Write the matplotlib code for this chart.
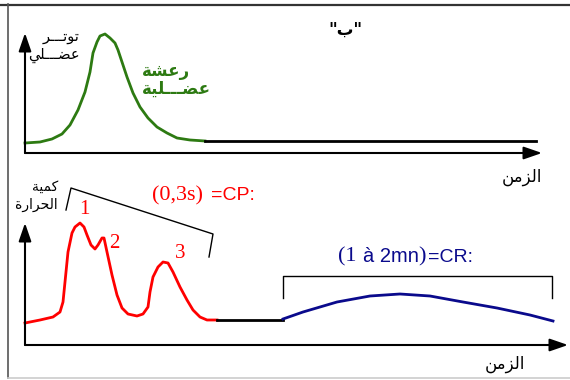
import matplotlib
matplotlib.use('Agg')
import matplotlib.pyplot as plt

# ---- data (arbitrary units: time to the right, amount upward) ----
# top graph : muscle contraction (green) then rest line
tension_t = [0, 15, 27, 37, 45, 53, 60, 65, 68, 72, 75, 80, 85, 90, 93, 97, 102, 108,
             115, 123, 132, 142, 152, 165, 180]
tension_v = [10, 11, 14, 19, 28, 43, 61, 81, 100, 111, 117, 119, 115, 110, 103, 91, 76, 60,
             46, 35, 26, 20, 15, 13, 12]
rest_top_t = [180, 511]
rest_top_v = [12, 12]

# bottom graph : heat, initial heat CP (red) , rest , recovery heat CR (blue)
heat_cp_t = [0, 15, 28, 35, 38, 40, 43, 47, 50, 55, 59, 62, 66, 70, 73, 77, 79, 82, 87, 92,
             97, 103, 112, 118, 123, 125, 128, 133, 138, 143, 148, 155, 162, 168, 175, 182, 192]
heat_cp_v = [22, 25, 28, 33, 43, 63, 93, 112, 118, 122, 118, 110, 100, 96, 100, 107, 107, 93, 70, 50,
             37, 31, 29, 31, 38, 53, 68, 78, 83, 82, 73, 58, 45, 35, 28, 25, 25]
rest_bot_t = [192, 258]
rest_bot_v = [25, 25]
heat_cr_t = [258, 278, 312, 345, 375, 405, 438, 472, 505, 528]
heat_cr_v = [26, 33, 43, 49, 51, 49, 43, 37, 30, 24]

peak_labels = ['1', '2', '3']

# brackets
cp_brk_t = [41, 46, 188, 184]
cp_brk_v = [135, 157, 111, 88]
cr_brk_t = [258, 258, 527, 527]
cr_brk_v = [47, 69, 69, 47]

# ---- minimal arabic shaping (presentation forms + right to left) ----
FORMS = {
    '\u0627': ('\uFE8D', '\uFE8E', None, None),
    '\u0628': ('\uFE8F', '\uFE90', '\uFE91', '\uFE92'),
    '\u0629': ('\uFE93', '\uFE94', None, None),
    '\u062A': ('\uFE95', '\uFE96', '\uFE97', '\uFE98'),
    '\u062D': ('\uFEA1', '\uFEA2', '\uFEA3', '\uFEA4'),
    '\u0631': ('\uFEAD', '\uFEAE', None, None),
    '\u0632': ('\uFEAF', '\uFEB0', None, None),
    '\u0634': ('\uFEB5', '\uFEB6', '\uFEB7', '\uFEB8'),
    '\u0636': ('\uFEBD', '\uFEBE', '\uFEBF', '\uFEC0'),
    '\u0639': ('\uFEC9', '\uFECA', '\uFECB', '\uFECC'),
    '\u0643': ('\uFED9', '\uFEDA', '\uFEDB', '\uFEDC'),
    '\u0644': ('\uFEDD', '\uFEDE', '\uFEDF', '\uFEE0'),
    '\u0645': ('\uFEE1', '\uFEE2', '\uFEE3', '\uFEE4'),
    '\u0646': ('\uFEE5', '\uFEE6', '\uFEE7', '\uFEE8'),
    '\u0648': ('\uFEED', '\uFEEE', None, None),
    '\u064A': ('\uFEF1', '\uFEF2', '\uFEF3', '\uFEF4'),
}
TATWEEL = '\u0640'


def dual(c):
    return c == TATWEEL or (c in FORMS and FORMS[c][2] is not None)


def arabic(c):
    return c == TATWEEL or c in FORMS


def ar(word):
    out = []
    for i, c in enumerate(word):
        if c not in FORMS:
            out.append(c)
            continue
        prev = i > 0 and dual(word[i - 1])
        nxt = i < len(word) - 1 and FORMS[c][2] is not None and arabic(word[i + 1])
        iso, fin, ini, med = FORMS[c]
        if prev and nxt:
            out.append(med)
        elif prev:
            out.append(fin)
        elif nxt:
            out.append(ini)
        else:
            out.append(iso)
    return ''.join(reversed(out))


AR = ['DejaVu Sans']
SERIF = ['Liberation Serif', 'DejaVu Serif']
SANS = ['Liberation Sans', 'DejaVu Sans']
GREEN = '#2d7a12'
RED = '#ff0000'
BLUE = '#0a0a8c'

fig = plt.figure(figsize=(5.7, 3.8), dpi=100)

# page in pixel coords for the frame and texts
page = fig.add_axes([0, 0, 1, 1])
page.set_xlim(0, 570)
page.set_ylim(380, 0)
page.axis('off')
page.plot([0, 570], [4.5, 4.5], color='#333333', lw=1.6)
page.plot([7.5, 7.5], [4, 378], color='#555555', lw=1.2)
page.plot([7.5, 570], [378, 378], color='#cccccc', lw=1.2)

# top graph
top = fig.add_axes([25 / 570, (380 - 153) / 380, 517 / 570, 120 / 380])
top.set_xlim(0, 517)
top.set_ylim(0, 120)
top.axis('off')

# bottom graph
bot = fig.add_axes([25 / 570, (380 - 345) / 380, 543 / 570, 122 / 380])
bot.set_xlim(0, 543)
bot.set_ylim(0, 122)
bot.axis('off')

arrow = dict(arrowstyle='-|>,head_length=1.1,head_width=0.38', lw=1.5, color='k',
             shrinkA=0, shrinkB=0, mutation_scale=10)
for ax in (top, bot):
    x1 = ax.get_xlim()[1]
    y1 = ax.get_ylim()[1]
    ax.annotate('', xy=(x1, 0), xytext=(0, 0), arrowprops=arrow, annotation_clip=False)
    ax.annotate('', xy=(0, y1), xytext=(0, 0), arrowprops=arrow, annotation_clip=False)

top.plot(tension_t, tension_v, color=GREEN, lw=2.0, clip_on=False, solid_joinstyle='round')
top.plot(rest_top_t, rest_top_v, color='k', lw=2.0, clip_on=False)

bot.plot(heat_cp_t, heat_cp_v, color=RED, lw=2.0, clip_on=False, solid_joinstyle='round')
bot.plot(rest_bot_t, rest_bot_v, color='k', lw=2.0, clip_on=False)
bot.plot(heat_cr_t, heat_cr_v, color=BLUE, lw=2.0, clip_on=False, solid_joinstyle='round')

bot.plot(cp_brk_t, cp_brk_v, color='k', lw=1.0, clip_on=False)
bot.plot(cr_brk_t, cr_brk_v, color='k', lw=1.0, clip_on=False)

# ---- texts ----
page.text(345, 30, '"' + ar('\u0628') + '"', fontsize=12, fontweight='bold',
          family=AR, ha='center', va='center')

page.text(80, 36, ar('\u062A\u0648\u062A\u0640\u0640\u0640\u0631'), fontsize=10.5,
          family=AR, ha='right', va='center')
page.text(80, 55, ar('\u0639\u0636\u0640\u0640\u0640\u0644\u064A'), fontsize=10.5,
          family=AR, ha='right', va='center')

page.text(142, 71, ar('\u0631\u0639\u0634\u0629'), fontsize=12, fontweight='bold',
          color=GREEN, family=AR, ha='left', va='center')
page.text(142, 89, ar('\u0639\u0636\u0640\u0640\u0640\u0644\u064A\u0629'), fontsize=12,
          fontweight='bold', color=GREEN, family=AR, ha='left', va='center')

page.text(542, 177, ar('\u0627\u0644\u0632\u0645\u0646'), fontsize=12, family=AR,
          ha='right', va='center')
page.text(525, 364, ar('\u0627\u0644\u0632\u0645\u0646'), fontsize=12, family=AR,
          ha='right', va='center')

page.text(58, 187, ar('\u0643\u0645\u064A\u0629'), fontsize=10, family=AR,
          ha='right', va='center')
page.text(58, 205, ar('\u0627\u0644\u062D\u0631\u0627\u0631\u0629'), fontsize=10, family=AR,
          ha='right', va='center')

# peak numbers
for lab, (px, py) in zip(peak_labels, [(84, 210), (114, 244), (180, 254)]):
    page.text(px, py, lab, fontsize=15, color=RED, family=SERIF, ha='center', va='center')

page.text(152, 196, '(0,3s)', fontsize=16, color=RED, family=SERIF, ha='left', va='center')
page.text(255, 196, '=CP:', fontsize=14, color=RED, family=SANS, ha='right', va='center')

page.text(338, 257, '(1', fontsize=16, color=BLUE, family=SERIF, ha='left', va='center')
page.text(363, 257, '\u00e0 2mn', fontsize=14.5, color=BLUE, family=SANS, ha='left', va='center')
page.text(418, 257, ')', fontsize=16, color=BLUE, family=SERIF, ha='left', va='center')
page.text(473, 257, '=CR:', fontsize=14, color=BLUE, family=SANS, ha='right', va='center')

fig.savefig('out.png', dpi=100)
